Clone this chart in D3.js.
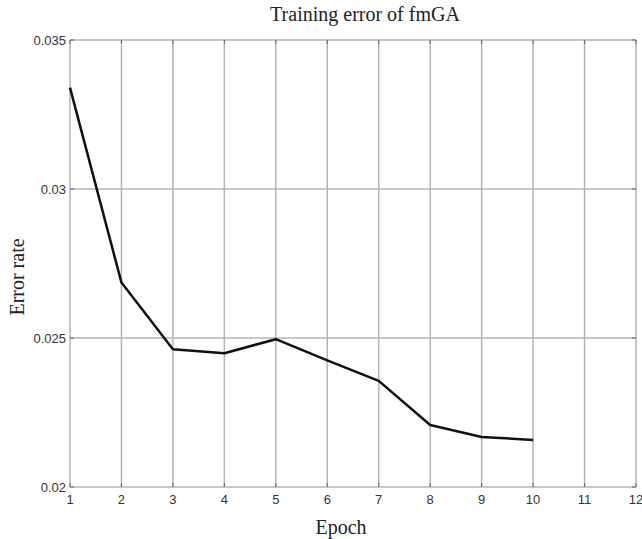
<!DOCTYPE html>
<html><head><meta charset="utf-8">
<script src="https://cdn.jsdelivr.net/npm/d3@7"></script>
<style>body{margin:0;background:#fff}svg{display:block}</style>
</head><body>
<svg id="c" width="642" height="539"></svg>
<script>
const epochs = [1,2,3,4,5,6,7,8,9,10];
const errorRate = [0.0334,0.02686,0.02462,0.02449,0.02496,0.02425,0.02356,0.02208,0.02168,0.02158];
const xTicks = [1,2,3,4,5,6,7,8,9,10,11,12];
const yTicks = [0.02,0.025,0.03,0.035];
const yTickLabels = ["0.02","0.025","0.03","0.035"];

const svg = d3.select("#c");
const m = {l:70, r:636, t:40, b:487};
const x = d3.scaleLinear().domain([1,12]).range([m.l, m.r]);
const y = d3.scaleLinear().domain([0.02,0.035]).range([m.b, m.t]);

const grid = svg.append("g");
grid.selectAll(".vx").data(xTicks).join("line")
  .attr("x1", d=>x(d)).attr("x2", d=>x(d)).attr("y1", m.t).attr("y2", m.b)
  .attr("stroke", "#b4b4b4").attr("stroke-width", 1.5);
grid.selectAll(".hy").data(yTicks).join("line")
  .attr("x1", m.l).attr("x2", m.r).attr("y1", d=>y(d)).attr("y2", d=>y(d))
  .attr("stroke", "#b4b4b4").attr("stroke-width", 1.5);

// inward ticks
const tk = svg.append("g").attr("stroke", "#666").attr("stroke-width", 1);
xTicks.forEach(d=>{
  tk.append("line").attr("x1", x(d)).attr("x2", x(d)).attr("y1", m.b).attr("y2", m.b-4);
  tk.append("line").attr("x1", x(d)).attr("x2", x(d)).attr("y1", m.t).attr("y2", m.t+4);
});
yTicks.forEach(d=>{
  tk.append("line").attr("x1", m.l).attr("x2", m.l+4).attr("y1", y(d)).attr("y2", y(d));
  tk.append("line").attr("x1", m.r).attr("x2", m.r-4).attr("y1", y(d)).attr("y2", y(d));
});

// tick labels
svg.append("g").selectAll("text").data(xTicks).join("text")
  .attr("x", d=>x(d)).attr("y", 504).attr("text-anchor", "middle")
  .attr("font-family", "Liberation Sans, Arial, sans-serif").attr("font-size", 13)
  .attr("fill", "#333").text(d=>d);
svg.append("g").selectAll("text").data(yTicks).join("text")
  .attr("x", m.l-4).attr("y", d=>y(d)).attr("dy", "0.35em").attr("text-anchor", "end")
  .attr("font-family", "Liberation Sans, Arial, sans-serif").attr("font-size", 13)
  .attr("fill", "#333").text((d,i)=>yTickLabels[i]);

// line
const line = d3.line().x((d,i)=>x(epochs[i])).y(d=>y(d));
svg.append("path").datum(errorRate).attr("d", line)
  .attr("fill", "none").attr("stroke", "#111").attr("stroke-width", 2.5)
  .attr("stroke-linejoin", "round");

// titles
svg.append("text").attr("x", 365).attr("y", 21).attr("text-anchor", "middle")
  .attr("font-family", "Liberation Serif, Times New Roman, serif").attr("font-size", 20)
  .attr("fill", "#222").text("Training error of fmGA");
svg.append("text").attr("x", 341).attr("y", 534).attr("text-anchor", "middle")
  .attr("font-family", "Liberation Serif, Times New Roman, serif").attr("font-size", 20)
  .attr("fill", "#222").text("Epoch");
svg.append("text").attr("transform", "translate(24,277) rotate(-90)").attr("text-anchor", "middle")
  .attr("font-family", "Liberation Serif, Times New Roman, serif").attr("font-size", 20)
  .attr("fill", "#222").text("Error rate");
</script>
</body></html>
